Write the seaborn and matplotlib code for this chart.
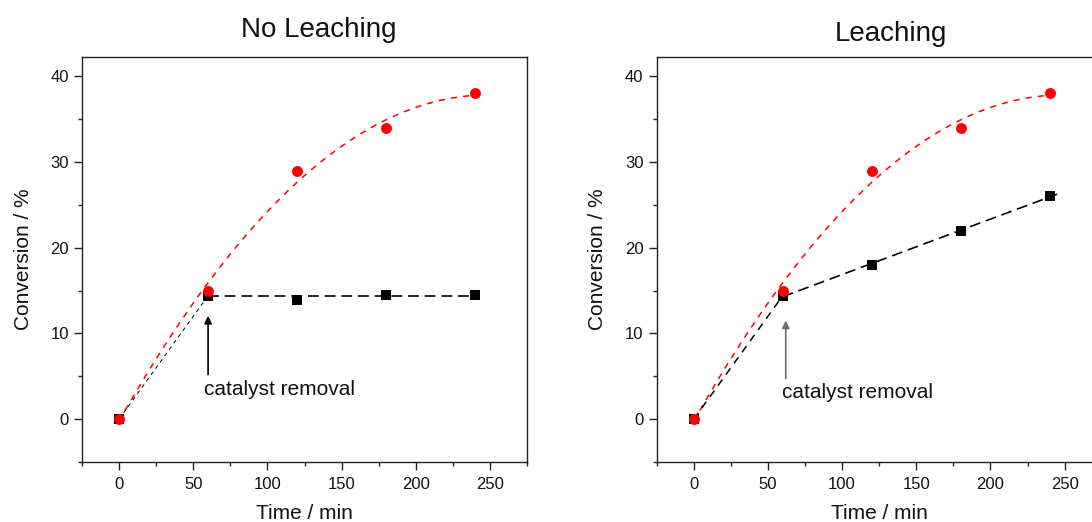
import numpy as np
import matplotlib
matplotlib.use("Agg")
import matplotlib.pyplot as plt
import seaborn as sns

# Reaction time points (min)
time_min = [0, 60, 120, 180, 240]

# Conversion with catalyst present throughout (%)
conv_catalyst = [0, 15, 29, 34, 38]

# Conversion after catalyst removal at 60 min (%)
conv_removed_no_leach = [0, 14.4, 13.9, 14.5, 14.5]
conv_removed_leach = [0, 14.4, 18, 22, 26]

panel_titles = ["No Leaching", "Leaching"]
x_ticks = [0, 50, 100, 150, 200, 250]
y_ticks = [0, 10, 20, 30, 40]
annotation_text = "catalyst removal"

sns.set_theme(style="ticks")
plt.rcParams["font.family"] = ["Liberation Sans", "DejaVu Sans"]

W, H = 1092, 522
fig = plt.figure(figsize=(W / 100, H / 100), dpi=100)


def px_axes(left, right, top, bottom):
    return fig.add_axes([left / W, 1 - bottom / H, (right - left) / W, (bottom - top) / H])


ax_left = px_axes(82, 527, 56.5, 462)
ax_right = px_axes(656.7, 1101.7, 56.5, 462)

RED = "#ff0000"
BLACK = "#000000"


def draw_panel(ax, removed, title, title_xy, arrow_x, arrow_y, text_xy, arrow_color,
               black_first_lw, black_first_dash, fit_degree, black_fit_end):
    t = np.array(time_min, dtype=float)
    y_cat = np.array(conv_catalyst, dtype=float)
    y_rem = np.array(removed, dtype=float)

    # Quadratic fit through the catalyst run
    coef = np.polyfit(t, y_cat, 2)
    tf = np.linspace(t[0], t[-1], 200)
    sns.lineplot(x=tf, y=np.polyval(coef, tf), ax=ax, color=RED, lw=1.1,
                 linestyle=(0, (4, 4)), zorder=2)

    # Initial straight segment up to removal, then a fit of the filtrate run
    sns.lineplot(x=t[:2], y=y_rem[:2], ax=ax, color=BLACK, lw=black_first_lw,
                 linestyle=(0, black_first_dash), zorder=2)
    lin = np.polyfit(t[1:], y_rem[1:], fit_degree)
    tl = np.linspace(t[1], black_fit_end, 50)
    sns.lineplot(x=tl, y=np.polyval(lin, tl), ax=ax, color=BLACK, lw=1.2,
                 linestyle=(0, (6.5, 3.5)), zorder=2)

    sns.scatterplot(x=t, y=y_rem, ax=ax, marker="s", s=46, color=BLACK,
                    edgecolor=BLACK, linewidth=0, zorder=3)
    sns.scatterplot(x=t, y=y_cat, ax=ax, marker="o", s=62, color=RED,
                    edgecolor=RED, linewidth=0, zorder=4)

    ax.annotate("", xy=(arrow_x, arrow_y[1]), xytext=(arrow_x, arrow_y[0]),
                arrowprops=dict(arrowstyle="-|>", color=arrow_color, lw=1.2,
                                mutation_scale=11, shrinkA=0, shrinkB=0))
    ax.text(text_xy[0], text_xy[1], annotation_text, fontsize=15, ha="left",
            va="center", color="#111111")

    ax.set_xlim(-25, 275)
    ax.set_ylim(-5, 42.3)
    ax.set_xticks(x_ticks)
    ax.set_yticks(y_ticks)
    ax.set_xticks(np.arange(-25, 276, 50), minor=True)
    ax.set_yticks(np.arange(-5, 42, 10), minor=True)
    ax.tick_params(axis="both", which="major", length=5.5, width=1.0,
                   labelsize=12, direction="out", colors="#222222",
                   labelcolor="#111111")
    ax.tick_params(axis="x", which="major", pad=5.5)
    ax.tick_params(axis="y", which="major", pad=4)
    ax.tick_params(axis="both", which="minor", length=3, width=1.0,
                   direction="out", colors="#222222")
    for sp in ax.spines.values():
        sp.set_linewidth(1.0)
        sp.set_color("#222222")
    ax.set_xlabel("Time / min", fontsize=15, color="#111111")
    ax.set_ylabel("Conversion / %", fontsize=15, color="#111111")
    ax.xaxis.set_label_coords(0.5, -0.104)
    ax.yaxis.set_label_coords(-0.111, 0.5)
    fig.text(title_xy[0] / W, 1 - title_xy[1] / H, title, fontsize=20,
             ha="center", va="baseline", color="#111111")


draw_panel(ax_left, conv_removed_no_leach, panel_titles[0], (319, 36.7),
           60, (5.2, 12.05), (57, 3.5), BLACK, 0.7, (4, 4), 0, 240)
draw_panel(ax_right, conv_removed_leach, panel_titles[1], (891, 41),
           62, (4.75, 11.5), (59.3, 3.1), "#6e6e6e", 1.1, (5, 4), 1, 245)

fig.savefig("out.png", dpi=100)
